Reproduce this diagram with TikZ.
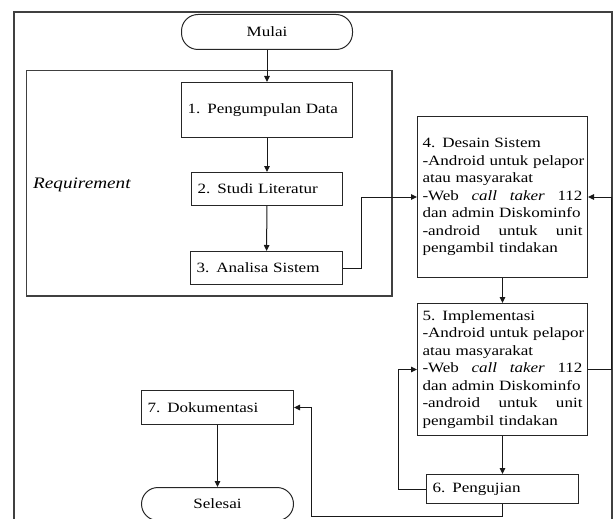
\documentclass[tikz,border=0pt]{standalone}
\usepackage{fontspec}
\setmainfont{Liberation Serif}[FakeStretch=1.2]
\usetikzlibrary{arrows.meta}

% type size of all box texts, with no hyphenation
\newcommand{\boxfont}{\fontsize{14.2}{17.5}\selectfont\hyphenpenalty=10000\relax}
% a line spread out to the full text width of the wide boxes
\newcommand{\spreadline}[1]{\leavevmode\hbox to 160pt{#1}}

\begin{document}
\begin{tikzpicture}[x=1pt,y=-1pt,
  frameline/.style={draw=black!75, line width=1.3pt},
  flow/.style={draw=black!90, line width=1pt, -{Triangle[length=6pt,width=5.5pt]}},
  stepbox/.style={draw=black!85, line width=1pt, inner xsep=6pt, inner ysep=0pt,
    align=left, anchor=north west, font={\boxfont}},
  wide/.style={stepbox, inner xsep=5pt},
  term/.style={draw=black!85, line width=1pt, rounded corners=16.5pt, anchor=north west,
    inner sep=0pt, font={\boxfont}}
]
\useasboundingbox (0,0) rectangle (614,519);
\clip (0,0) rectangle (614,519);

% outer frame, open at the bottom
\draw[frameline] (14,530) -- (14,12) -- (612,12) -- (612,530);
% requirement group
\draw[frameline] (26.7,70.7) rectangle (392,296);
\node[anchor=west, inner sep=2pt, font=\fontsize{16}{19}\selectfont\itshape] (req) at (31,185) {Requirement};

% terminals
\node[term, minimum width=171pt, minimum height=35pt] (mulai) at (181,14) {Mulai};
\node[term, minimum width=152pt, minimum height=33pt] (selesai) at (141,487) {Selesai};

% process steps
\node[stepbox, text width=159pt, minimum height=55pt] (p1) at (181,82) {1. Pengumpulan Data};
\node[stepbox, text width=139pt, minimum height=33pt] (p2) at (191,172) {2. Studi Literatur};
\node[stepbox, text width=140pt, minimum height=33pt] (p3) at (190,251) {3. Analisa Sistem};
\node[wide, text width=160pt, minimum height=161pt] (p4) at (417,116) {4. Desain Sistem\\
  \mbox{-Android untuk pelapor}\\
  atau masyarakat\\
  \spreadline{-Web\hfill\textit{call}\hfill\textit{taker}\hfill 112}\\
  \mbox{dan admin Diskominfo}\\
  \spreadline{-android\hfill untuk\hfill unit}\\
  pengambil tindakan};
\node[wide, text width=160pt, minimum height=132pt] (p5) at (417,303) {5. Implementasi\\
  \mbox{-Android untuk pelapor}\\
  atau masyarakat\\
  \spreadline{-Web\hfill\textit{call}\hfill\textit{taker}\hfill 112}\\
  \mbox{dan admin Diskominfo}\\
  \spreadline{-android\hfill untuk\hfill unit}\\
  pengambil tindakan};
\node[stepbox, text width=140pt, minimum height=29pt] (p6) at (426,474) {6. Pengujian};
\node[stepbox, text width=140pt, minimum height=34pt] (p7) at (141,390) {7. Dokumentasi};

% connectors
\coordinate (back) at (311,516);
\draw[flow] (mulai) -- (p1);
\draw[flow] (p1) -- (p2);
\draw[flow] (p2) -- (p3);
\draw[flow] (p3.east) -- ++(18,0) |- (p4.west);
\draw[flow] (p4) -- (p5);
\draw[flow] (p5.east) -- ++(23,0) |- (p4.east);
\draw[flow] (p5) -- (p6);
\draw[flow] (p6.west) -- ++(-28,0) |- (p5.west);
\draw[flow] (p6.south) |- (back) |- (p7.east);
\draw[flow] (p7) -- (selesai);
\end{tikzpicture}
\end{document}
